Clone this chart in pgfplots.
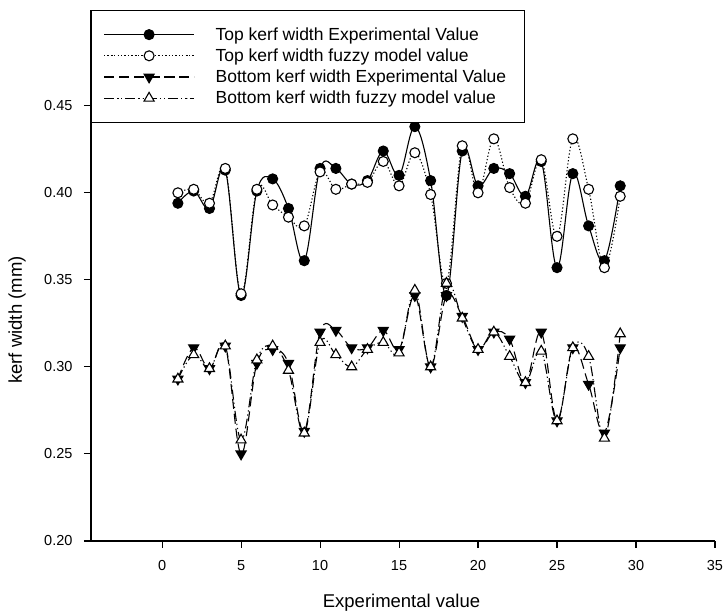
\documentclass[border=0pt]{standalone}
\usepackage{fontspec}
\setmainfont{Liberation Sans}
\usepackage{pgfplots}
\usepackage{pgfplotstable}
\pgfplotsset{compat=1.18}

\pgfplotstableread{
x  texp  tfuz  bexp  bfuz
1  0.394 0.400 0.293 0.293
2  0.401 0.402 0.311 0.307
3  0.391 0.394 0.299 0.299
4  0.413 0.414 0.312 0.312
5  0.341 0.342 0.250 0.258
6  0.401 0.402 0.302 0.304
7  0.408 0.393 0.310 0.312
8  0.391 0.386 0.302 0.298
9  0.361 0.381 0.263 0.262
10 0.414 0.412 0.320 0.314
11 0.414 0.402 0.321 0.307
12 0.405 0.405 0.311 0.300
13 0.407 0.406 0.311 0.310
14 0.424 0.418 0.321 0.314
15 0.410 0.404 0.310 0.308
16 0.438 0.423 0.341 0.344
17 0.407 0.399 0.300 0.300
18 0.341 0.348 0.341 0.348
19 0.424 0.427 0.329 0.328
20 0.404 0.400 0.310 0.310
21 0.414 0.431 0.320 0.320
22 0.411 0.403 0.316 0.306
23 0.398 0.394 0.291 0.291
24 0.418 0.419 0.320 0.309
25 0.357 0.375 0.269 0.269
26 0.411 0.431 0.311 0.311
27 0.381 0.402 0.290 0.306
28 0.361 0.357 0.262 0.259
29 0.404 0.398 0.311 0.319
}\datatable

\begin{document}
\begin{tikzpicture}
\path[use as bounding box] (0pt,0pt) rectangle (724pt,612pt);
\begin{axis}[
  at={(91pt,71pt)}, anchor=south west,
  scale only axis, width=624pt, height=531pt,
  xmin=-4.5, xmax=35, ymin=0.2, ymax=0.505,
  axis x line*=bottom, axis y line*=left,
  axis line style={-, line width=1.1pt},
  every tick/.style={black, line width=1.1pt},
  tick align=outside, major tick length=7pt,
  xtick={0,5,10,15,20,25,30,35},
  ytick={0.20,0.25,0.30,0.35,0.40,0.45},
  minor tick num=0,
  /pgf/number format/assume math mode=true,
  tick label style={font=\fontsize{14.5}{16}\selectfont},
  yticklabel style={xshift=-8pt, /pgf/number format/.cd, fixed, fixed zerofill, precision=2},
  xticklabel style={yshift=-9pt, /pgf/number format/.cd, fixed, precision=0},
  scaled y ticks=false,
  every axis x label/.style={at={(axis description cs:0.4976,0)}, anchor=base, yshift=-67pt},
  every axis y label/.style={at={(axis description cs:-0.1186,0.416)}, rotate=90, anchor=center},
  label style={font=\fontsize{18.5}{22}\selectfont},
  xlabel={Experimental value},
  ylabel={kerf width (mm)},
  legend cell align=left,
  legend image code/.code={\draw[mark repeat=2,mark phase=2,#1] plot coordinates {(0pt,0pt) (45pt,0pt) (90pt,0pt)};},
  legend style={at={(0,1)}, anchor=north west, draw=black, line width=1.1pt, fill=white,
    inner xsep=12pt, inner ysep=17pt, row sep=7pt,
    nodes={inner sep=0pt},
    /tikz/every odd column/.append style={column sep=21pt},
    font=\fontsize{17.5}{21}\selectfont},
  every axis plot/.append style={line width=1.1pt, black, smooth, tension=0.6},
]
\addplot[solid, mark=*, mark size=5pt, mark options={solid, fill=black}]
  table[x=x, y=texp] {\datatable};
\addlegendentry{\makebox[297pt][l]{Top kerf width Experimental Value}}
\addplot[dash pattern=on 1.2pt off 2.2pt, mark=*, mark size=5pt, mark options={solid, fill=white}]
  table[x=x, y=tfuz] {\datatable};
\addlegendentry{\makebox[297pt][l]{Top kerf width fuzzy model value}}
\addplot[dash pattern=on 10pt off 5pt, mark=triangle*, mark size=5.8pt, mark options={solid, rotate=180, fill=black}]
  table[x=x, y=bexp] {\datatable};
\addlegendentry{\makebox[297pt][l]{Bottom kerf width Experimental Value}}
\addplot[dash pattern=on 10pt off 3pt on 1.2pt off 3pt on 1.2pt off 3pt, mark=triangle*, mark size=5.8pt, mark options={solid, fill=white}]
  table[x=x, y=bfuz] {\datatable};
\addlegendentry{\makebox[297pt][l]{Bottom kerf width fuzzy model value}}
\end{axis}
\end{tikzpicture}
\end{document}
